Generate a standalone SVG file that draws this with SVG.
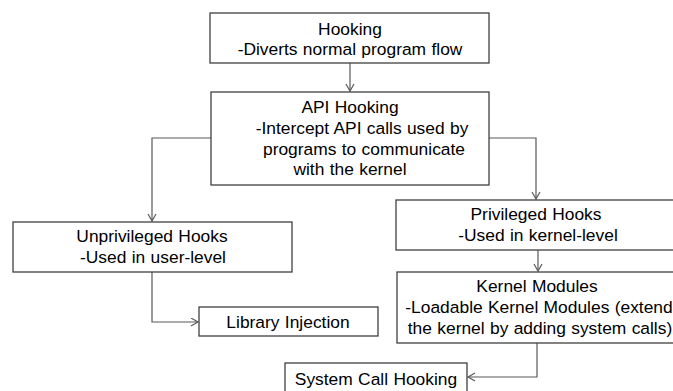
<svg xmlns="http://www.w3.org/2000/svg" width="673" height="391" viewBox="0 0 673 391">
<style>
.box{fill:#fff;stroke:#404040;stroke-width:1.3}
.t{font-family:"Liberation Sans",Arial,sans-serif;font-size:17.4px;word-spacing:0.5px;fill:#000;text-anchor:middle}
.c{fill:none;stroke:#595959;stroke-width:1.2}
</style>
<defs>
<marker id="ah" markerUnits="userSpaceOnUse" markerWidth="12" markerHeight="12" refX="8" refY="4.5" orient="auto">
<path d="M1,0.5 L8,4.5 L1,8.5" fill="none" stroke="#595959" stroke-width="1.2"/>
</marker>
</defs>
<rect width="673" height="391" fill="#fff"/>
<g id="connectors">
<path class="c" d="M350,63 V91" marker-end="url(#ah)"/>
<path class="c" d="M211,138 H152 V221" marker-end="url(#ah)"/>
<path class="c" d="M489,138 H536 V199" marker-end="url(#ah)"/>
<path class="c" d="M152,272 V322 H198" marker-end="url(#ah)"/>
<path class="c" d="M538,250 V271" marker-end="url(#ah)"/>
<path class="c" d="M537,343 V377 H468" marker-end="url(#ah)"/>
</g>
<g id="hooking">
<rect class="box" x="210" y="13" width="279" height="50"/>
<text class="t" x="350" y="35">Hooking</text>
<text class="t" x="350" y="55">-Diverts normal program flow</text>
</g>
<g id="api-hooking">
<rect class="box" x="211" y="92" width="278" height="93"/>
<text class="t" x="350" y="113">API Hooking</text>
<text class="t" x="362" y="134">-Intercept API calls used by</text>
<text class="t" x="364" y="155">programs to communicate</text>
<text class="t" x="350" y="175">with the kernel</text>
</g>
<g id="unprivileged">
<rect class="box" x="13" y="222" width="279" height="50"/>
<text class="t" x="152" y="242">Unprivileged Hooks</text>
<text class="t" x="153" y="263">-Used in user-level</text>
</g>
<g id="library-injection">
<rect class="box" x="199" y="307" width="179" height="29"/>
<text class="t" x="288" y="328">Library Injection</text>
</g>
<g id="privileged">
<rect class="box" x="396" y="200" width="290" height="50"/>
<text class="t" x="536" y="220">Privileged Hooks</text>
<text class="t" x="538" y="241">-Used in kernel-level</text>
</g>
<g id="kernel-modules">
<rect class="box" x="397" y="272" width="290" height="71"/>
<text class="t" x="537" y="292">Kernel Modules</text>
<text class="t" x="539" y="313">-Loadable Kernel Modules (extend</text>
<text class="t" x="540" y="334">the kernel by adding system calls)</text>
</g>
<g id="system-call-hooking">
<rect class="box" x="285" y="363" width="182" height="40"/>
<text class="t" x="376" y="385">System Call Hooking</text>
</g>
</svg>
